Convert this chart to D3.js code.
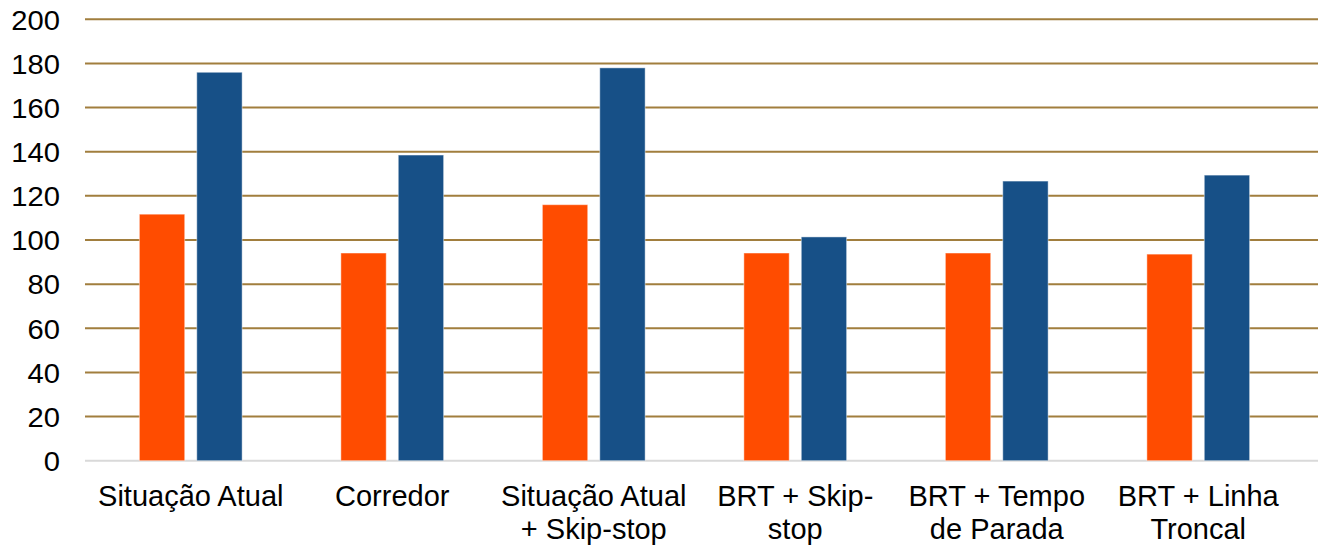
<!DOCTYPE html>
<html>
<head>
<meta charset="utf-8">
<script src="https://cdn.jsdelivr.net/npm/d3@7"></script>
<style>
  html, body { margin: 0; padding: 0; background: #ffffff; }
  svg { display: block; }
  text { font-family: "Liberation Sans", Arial, sans-serif; fill: #000; }
</style>
</head>
<body>
<svg id="chart" width="1318" height="546"></svg>
<script>
// Scenario names (line breaks as shown on the axis)
const categories = [
  "Situação Atual",
  "Corredor",
  "Situação Atual\n+ Skip-stop",
  "BRT + Skip-\nstop",
  "BRT + Tempo\nde Parada",
  "BRT + Linha\nTroncal"
];
const seriesNames = ["Série 1", "Série 2"];
const series1 = [111.7, 94.1, 116, 94.1, 94.1, 93.6];
const series2 = [176, 138.5, 178, 101.4, 126.7, 129.4];
const yTicks = [0, 20, 40, 60, 80, 100, 120, 140, 160, 180, 200];
const colors = ["#FF4C00", "#175087"];

const svg = d3.select("#chart");
const plotLeft = 85, plotRight = 1318;
const yTop = 19.3, yBottom = 460.7;

const y = d3.scaleLinear().domain([0, 200]).range([yBottom, yTop]);
const x = d3.scaleBand().domain(categories).range([90, 1299])
  .paddingInner(0.49).paddingOuter(0.245);
const xs = d3.scaleBand().domain(seriesNames).range([0, x.bandwidth()]).paddingInner(0.21);

// Horizontal gridlines
svg.append("g")
  .selectAll("line")
  .data(yTicks.filter(d => d > 0))
  .join("line")
  .attr("x1", plotLeft).attr("x2", plotRight)
  .attr("y1", d => y(d)).attr("y2", d => y(d))
  .attr("stroke", "#A17E3E")
  .attr("stroke-width", 2);

// Baseline
svg.append("line")
  .attr("x1", plotLeft).attr("x2", plotRight)
  .attr("y1", y(0)).attr("y2", y(0))
  .attr("stroke", "#D9D9D9")
  .attr("stroke-width", 2);

// Y tick labels
const yAxis = d3.axisLeft(y).tickValues(yTicks).tickSize(0).tickPadding(0);
const yg = svg.append("g").attr("transform", "translate(60,0)").call(yAxis);
yg.select(".domain").remove();
yg.selectAll("text")
  .attr("font-size", 27)
  .attr("font-family", "Liberation Sans, Arial, sans-serif")
  .attr("fill", "#000")
  .attr("dy", "0.36em")
  .attr("x", 0)
  .attr("transform", "scale(1.08,1)");

// Bars
const data = categories.map((c, i) => ({ c, vals: [series1[i], series2[i]] }));
const groups = svg.append("g").selectAll("g")
  .data(data)
  .join("g")
  .attr("transform", d => `translate(${x(d.c)},0)`);

groups.selectAll("rect")
  .data(d => d.vals.map((v, j) => ({ s: seriesNames[j], v, j })))
  .join("rect")
  .attr("x", d => xs(d.s))
  .attr("width", xs.bandwidth())
  .attr("y", d => y(d.v))
  .attr("height", d => y(0) - y(d.v))
  .attr("fill", d => colors[d.j])
  .attr("stroke", "rgba(255,255,255,0.45)")
  .attr("stroke-width", 1);

// Category labels
const labels = svg.append("g").selectAll("text")
  .data(categories)
  .join("text")
  .attr("text-anchor", "middle")
  .attr("font-size", 29)
  .attr("transform", d => `translate(${x(d) + x.bandwidth() / 2},506)`);

labels.each(function(d) {
  const lines = d.split("\n");
  d3.select(this).selectAll("tspan")
    .data(lines)
    .join("tspan")
    .attr("x", 0)
    .attr("y", (l, i) => i * 33)
    .text(l => l);
});
</script>
</body>
</html>
